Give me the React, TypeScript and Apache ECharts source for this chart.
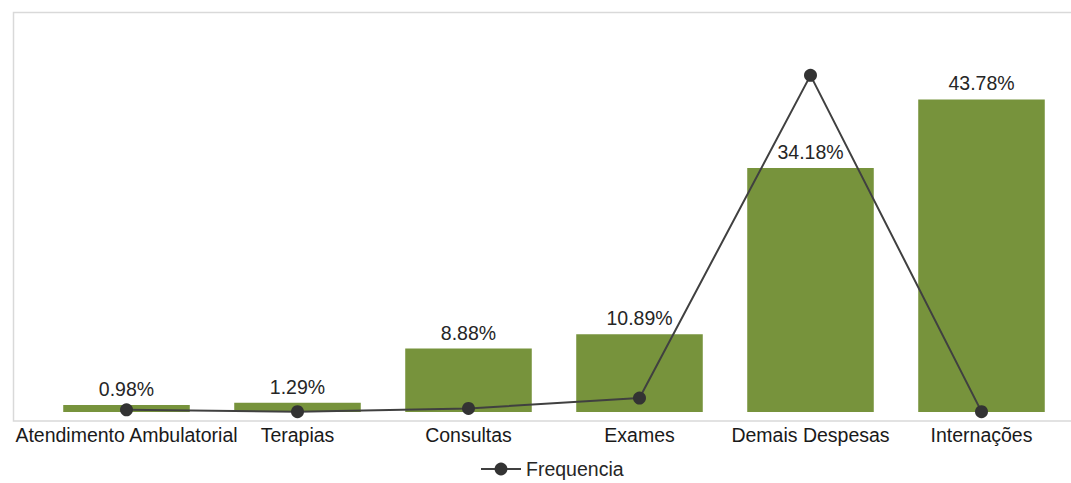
import React, { useEffect, useRef } from "react";
import * as echarts from "echarts";

const categories = [
  "Atendimento Ambulatorial",
  "Terapias",
  "Consultas",
  "Exames",
  "Demais Despesas",
  "Internações",
];
const costShare = [0.98, 1.29, 8.88, 10.89, 34.18, 43.78];
const frequencia = [0.6, 0.1, 1.0, 3.9, 94.3, 0.1];

export default function App() {
  const ref = useRef<HTMLDivElement>(null);
  useEffect(() => {
    document.body.style.margin = "0";
    const chart = echarts.init(ref.current!, null, { renderer: "svg" });
    chart.setOption({
      animation: false,
      textStyle: { fontFamily: "Liberation Sans, Arial, sans-serif" },
      graphic: [
        {
          type: "rect",
          shape: { x: 13.5, y: 12.5, width: 1060, height: 408.5 },
          style: { fill: "none", stroke: "#d9d9d9", lineWidth: 1.5 },
          silent: true,
          z: -1,
        },
      ],
      grid: { left: 41, right: 4, top: 55, bottom: 71 },
      legend: {
        data: ["Frequencia"],
        top: 459,
        left: 480,
        padding: 0,
        itemWidth: 40,
        itemHeight: 16,
        itemGap: 6,
        textStyle: { fontSize: 19.5, color: "#262626" },
      },
      xAxis: {
        type: "category",
        data: categories,
        axisLine: { show: false },
        axisTick: { show: false },
        axisLabel: {
          fontSize: 19.5,
          color: "#1a1a1a",
          margin: 13,
          interval: 0,
        },
      },
      yAxis: [
        { type: "value", min: 0, max: 50, show: false },
        { type: "value", min: 0, max: 100, show: false },
      ],
      series: [
        {
          name: "Custo",
          type: "bar",
          data: costShare,
          barWidth: "74%",
          itemStyle: { color: "#77933C" },
          label: {
            show: true,
            position: "top",
            distance: 6,
            fontSize: 19.5,
            color: "#262626",
            formatter: (p: any) => p.value.toFixed(2) + "%",
          },
        },
        {
          name: "Frequencia",
          type: "line",
          yAxisIndex: 1,
          data: frequencia,
          symbol: "circle",
          symbolSize: 13,
          lineStyle: { color: "#404040", width: 2 },
          itemStyle: { color: "#333333" },
          z: 5,
        },
      ],
    });
    return () => chart.dispose();
  }, []);
  return <div ref={ref} style={{ width: 1071, height: 483 }} />;
}
